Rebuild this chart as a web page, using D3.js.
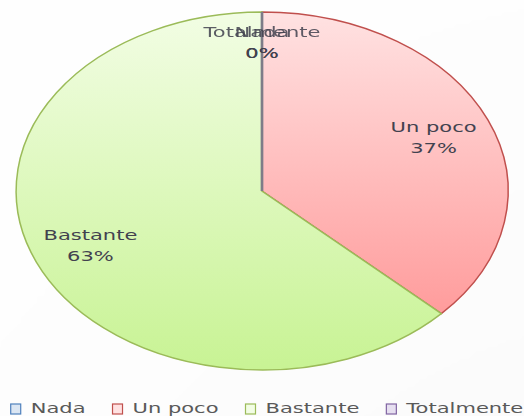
<!DOCTYPE html>
<html>
<head>
<meta charset="utf-8">
<script src="https://cdn.jsdelivr.net/npm/d3@7"></script>
<style>
  body { margin: 0; background: #fff; }
  text { font-family: "DejaVu Sans", Verdana, sans-serif; }
</style>
</head>
<body>
<div id="chart"></div>
<script>
// data (percent)
var categories = ["Nada", "Un poco", "Bastante", "Totalmente"];
var values = [0, 37, 63, 0];
var fillTop = ["#dbe6f3", "#ffe2e2", "#f2fde4", "#e6dff0"];
var fillBottom = ["#a9c1e0", "#ff9c9c", "#c8f394", "#bfb0d6"];
var edge = ["#4f81bd", "#c0504d", "#9bbb59", "#8064a2"];

var w = 524, h = 416;
var cx = 262, cy = 191, rx = 246, ry = 179;
var stretch = 1.45; // text in the picture is widened like the pie

var svg = d3.select("#chart").append("svg")
    .attr("width", w)
    .attr("height", h);

var defs = svg.append("defs");
var shadow = defs.append("filter").attr("id", "shadow")
    .attr("x", "-10%").attr("y", "-10%").attr("width", "120%").attr("height", "125%");
shadow.append("feDropShadow")
    .attr("dx", 2).attr("dy", 4).attr("stdDeviation", 3)
    .attr("flood-color", "#000").attr("flood-opacity", 0.35);

categories.forEach(function(c, i) {
    var g = defs.append("linearGradient").attr("id", "grad" + i)
        .attr("x1", 0).attr("y1", 0).attr("x2", 0).attr("y2", 1);
    g.append("stop").attr("offset", "0%").attr("stop-color", fillTop[i]);
    g.append("stop").attr("offset", "100%").attr("stop-color", fillBottom[i]);
});

var pie = d3.pie().sort(null).value(function(d) { return d; });
var arcs = pie(values);
var arc = d3.arc().innerRadius(0).outerRadius(1);

var pieG = svg.append("g")
    .attr("transform", "translate(" + cx + "," + cy + ") scale(" + rx + "," + ry + ")")
    .attr("filter", "url(#shadow)");

pieG.selectAll("path")
    .data(arcs)
    .enter()
    .append("path")
    .attr("d", arc)
    .attr("fill", function(d, i) { return "url(#grad" + i + ")"; })
    .attr("stroke", function(d, i) { return edge[i]; })
    .attr("stroke-width", 1.5)
    .attr("vector-effect", "non-scaling-stroke");

// zero slices show as a line from centre to top
arcs.forEach(function(d, i) {
    if (d.value === 0) {
        svg.append("line")
            .attr("x1", cx).attr("y1", cy)
            .attr("x2", cx).attr("y2", cy - ry)
            .attr("stroke", "#7d7d88").attr("stroke-width", 2.5)
            .attr("opacity", 0.8);
    }
});

// data labels
var fmt = d3.format(".0%");
var total = d3.sum(values);
var labelOrder = [3, 0, 1, 2];
labelOrder.forEach(function(i) {
    var d = arcs[i];
    var a = (d.startAngle + d.endAngle) / 2;
    var k = d.value === 0 ? 0.83 : 0.76;
    var x = cx + rx * k * Math.sin(a);
    var y = cy - ry * k * Math.cos(a);
    var t = svg.append("g")
        .attr("transform", "translate(" + x + "," + y + ") scale(" + stretch + ",1)");
    t.append("text")
        .attr("text-anchor", "middle")
        .attr("y", -5)
        .attr("font-size", 14.5)
        .attr("fill", "#42424f")
        .attr("opacity", d.value === 0 ? 0.85 : 1)
        .text(categories[i]);
    t.append("text")
        .attr("text-anchor", "middle")
        .attr("y", 16)
        .attr("font-size", 14.5)
        .attr("fill", "#42424f")
        .text(fmt(d.value / total));
});

// legend
var legend = svg.append("g");
var items = legend.selectAll("g")
    .data(categories)
    .enter()
    .append("g");

items.append("rect")
    .attr("width", 10).attr("height", 10)
    .attr("y", -9)
    .attr("fill", function(d, i) { return fillTop[i]; })
    .attr("stroke", function(d, i) { return edge[i]; })
    .attr("stroke-width", 1.2);

items.append("text")
    .attr("transform", "translate(20,0) scale(" + stretch + ",1)")
    .attr("font-size", 14.5)
    .attr("fill", "#595959")
    .text(function(d) { return d; });

var gap = 27;
var xPos = 0;
items.each(function() {
    var tw = d3.select(this).select("text").node().getComputedTextLength() * stretch;
    d3.select(this).attr("transform", "translate(" + xPos + ",0)");
    xPos += 20 + tw + gap;
});
var legendWidth = xPos - gap;
legend.attr("transform", "translate(" + (267 - legendWidth / 2) + ",413)");
</script>
</body>
</html>
